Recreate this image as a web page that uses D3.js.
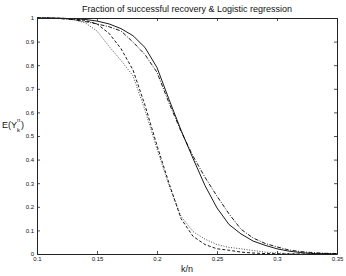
<!DOCTYPE html>
<html lang="en">
<head>
<meta charset="UTF-8">
<title>Fraction of successful recovery</title>
<script src="https://cdn.jsdelivr.net/npm/d3@7/dist/d3.min.js"></script>
<style>
    body { margin: 0; background: #fff; }
    text { font-family: "Liberation Sans", Arial, Helvetica, sans-serif; fill: #111; }
    .tick_label { font-size: 6px; }
</style>
</head>
<body>
<svg width="346" height="276"></svg>
<script>
    // k/n sample points
    const kn = [0.10, 0.11, 0.12, 0.13, 0.14, 0.15, 0.16, 0.17, 0.18, 0.19, 0.20, 0.21, 0.22,
                0.23, 0.24, 0.25, 0.26, 0.27, 0.28, 0.29, 0.30, 0.31, 0.32, 0.33, 0.34, 0.35];

    // right pair: recovery fraction (solid) and its logistic fit (dash-dot)
    const solidVals = [1, 1, 0.999, 0.997, 0.994, 0.987, 0.975, 0.955, 0.925, 0.875, 0.79, 0.655, 0.525,
                       0.405, 0.29, 0.195, 0.125, 0.085, 0.055, 0.037, 0.022, 0.012, 0.006, 0.002, 0.001, 0];
    const dashDotVals = [1, 0.999, 0.997, 0.993, 0.985, 0.975, 0.963, 0.945, 0.898, 0.845, 0.77, 0.64, 0.52,
                         0.415, 0.325, 0.245, 0.17, 0.105, 0.068, 0.045, 0.03, 0.017, 0.01, 0.006, 0.003, 0.002];

    // left pair: dashed and dotted
    const dashedVals = [1, 1, 0.999, 0.996, 0.99, 0.975, 0.935, 0.87, 0.78, 0.63, 0.46, 0.30, 0.15,
                        0.075, 0.04, 0.022, 0.016, 0.008, 0.004, 0.002, 0.001, 0, 0, 0, 0, 0];
    const dottedVals = [1, 1, 0.998, 0.993, 0.98, 0.945, 0.88, 0.82, 0.755, 0.61, 0.445, 0.29, 0.16,
                        0.095, 0.063, 0.04, 0.028, 0.022, 0.015, 0.008, 0.004, 0.002, 0, 0, 0, 0];

    const xTicks = [0.1, 0.15, 0.2, 0.25, 0.3, 0.35];
    const xTickLabels = ["0.1", "0.15", "0.2", "0.25", "0.3", "0.35"];
    const yTicks = [0, 0.1, 0.2, 0.3, 0.4, 0.5, 0.6, 0.7, 0.8, 0.9, 1];
    const yTickLabels = ["0", "0.1", "0.2", "0.3", "0.4", "0.5", "0.6", "0.7", "0.8", "0.9", "1"];

    const series = [
        { vals: dottedVals, dash: "1,1.6", color: "#333" },
        { vals: dashedVals, dash: "3,2", color: "#000" },
        { vals: dashDotVals, dash: "4,1.5,1,1.5", color: "#000" },
        { vals: solidVals, dash: null, color: "#000" }
    ];

    const svg = d3.select("svg");
    const plotLeft = 37, plotTop = 18, plotRight = 337, plotBottom = 254;

    const x = d3.scaleLinear().domain([0.1, 0.35]).range([plotLeft, plotRight]);
    const y = d3.scaleLinear().domain([0, 1]).range([plotBottom, plotTop]);

    // curves
    const line = d3.line()
        .x((d, i) => x(kn[i]))
        .y(d => y(d));

    svg.append("g").attr("class", "curves")
        .selectAll("path")
        .data(series)
        .enter()
        .append("path")
        .attr("d", d => line(d.vals))
        .attr("fill", "none")
        .attr("stroke", d => d.color)
        .attr("stroke-width", 0.9)
        .attr("stroke-dasharray", d => d.dash);

    // axes, inward ticks on all four sides (matlab box)
    const tickLen = 3;
    const axes = svg.append("g").attr("class", "axes");

    axes.append("g")
        .attr("transform", `translate(0,${plotBottom})`)
        .call(d3.axisBottom(x).tickValues(xTicks).tickSizeInner(-tickLen).tickSizeOuter(0)
            .tickFormat((d, i) => xTickLabels[i]).tickPadding(3));
    axes.append("g")
        .attr("transform", `translate(0,${plotTop})`)
        .call(d3.axisTop(x).tickValues(xTicks).tickSizeInner(-tickLen).tickSizeOuter(0).tickFormat(""));
    axes.append("g")
        .attr("transform", `translate(${plotLeft},0)`)
        .call(d3.axisLeft(y).tickValues(yTicks).tickSizeInner(-tickLen).tickSizeOuter(0)
            .tickFormat((d, i) => yTickLabels[i]).tickPadding(3));
    axes.append("g")
        .attr("transform", `translate(${plotRight},0)`)
        .call(d3.axisRight(y).tickValues(yTicks).tickSizeInner(-tickLen).tickSizeOuter(0).tickFormat(""));

    axes.selectAll(".domain").attr("stroke", "#222").attr("stroke-width", 1);
    axes.selectAll(".tick line").attr("stroke", "#222").attr("stroke-width", 0.8);
    axes.selectAll(".tick text")
        .attr("class", "tick_label")
        .attr("fill", "#111");
    axes.attr("font-family", null).attr("font-size", null);
    axes.selectAll("g").attr("font-family", null).attr("font-size", null);

    // title and labels
    svg.append("text")
        .attr("x", (plotLeft + plotRight) / 2)
        .attr("y", 12)
        .attr("text-anchor", "middle")
        .attr("font-size", "9px")
        .text("Fraction of successful recovery & Logistic regression");

    svg.append("text")
        .attr("x", (plotLeft + plotRight) / 2)
        .attr("y", 272)
        .attr("text-anchor", "middle")
        .attr("font-size", "9px")
        .text("k/n");

    const ylab = svg.append("text")
        .attr("x", 2)
        .attr("y", 128)
        .attr("font-size", "9px")
        .text("E(Y");
    const w = ylab.node().getComputedTextLength();
    svg.append("text").attr("x", 2 + w).attr("y", 122).attr("font-size", "6px").text("n");
    svg.append("text").attr("x", 2 + w).attr("y", 132).attr("font-size", "6px").text("k");
    svg.append("text").attr("x", 2 + w + 4).attr("y", 128).attr("font-size", "9px").text(")");
</script>
</body>
</html>
